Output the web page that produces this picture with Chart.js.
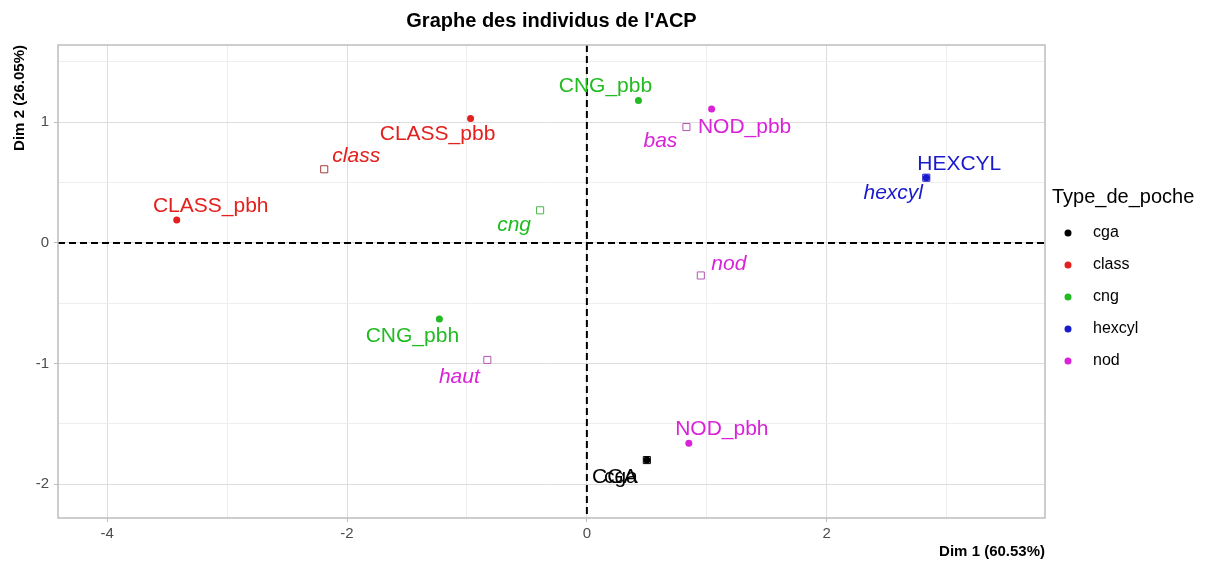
<!DOCTYPE html>
<html>
<head>
<meta charset="utf-8">
<title>Graphe des individus de l'ACP</title>
<script src="https://cdn.jsdelivr.net/npm/chart.js@4.4.0/dist/chart.umd.min.js"></script>
<style>
html, body {margin: 0; padding: 0; background: #fff;}
</style>
</head>
<body>
<canvas id="acp" width="1208" height="566"></canvas>
<script>
// groups (Type_de_poche)
const types = ['cga', 'class', 'cng', 'hexcyl', 'nod']
const typeColors = ['#000000', '#E3201E', '#22BB22', '#1A1ACD', '#D823D8']
const squareColors = ['#000000', '#A83A3A', '#48B848', '#1A1ACD', '#B455B4']

// individuals
const individus = ['CLASS_pbh', 'CLASS_pbb', 'CNG_pbb', 'CNG_pbh', 'NOD_pbb', 'NOD_pbh', 'HEXCYL', 'CGA']
const indGroup = ['class', 'class', 'cng', 'cng', 'nod', 'nod', 'hexcyl', 'cga']
const indDim1 = [-3.42, -0.97, 0.43, -1.23, 1.04, 0.85, 2.83, 0.50]
const indDim2 = [0.19, 1.03, 1.18, -0.63, 1.11, -1.66, 0.54, -1.80]

// supplementary categories
const supLabels = ['class', 'cng', 'bas', 'haut', 'nod', 'hexcyl', 'cga']
const supGroup = ['class', 'cng', 'nod', 'nod', 'nod', 'hexcyl', 'cga']
const supDim1 = [-2.19, -0.39, 0.83, -0.83, 0.95, 2.83, 0.50]
const supDim2 = [0.61, 0.27, 0.96, -0.97, -0.27, 0.54, -1.80]

// axes
const xMajor = [-4, -2, 0, 2]
const xMinor = [-3, -1, 1, 3]
const yMajor = [-2, -1, 0, 1]
const yMinor = [-1.5, -0.5, 0.5, 1.5]

// label offsets in pixels from their point
const indOffsets = [[34, -14], [-33, 16], [-33, -14], [-27, 17], [33, 18], [33, -14], [33, -14], [-32, 17]]
const supOffsets = [[32, -13], [-26, 15], [-26, 14], [-28, 17], [28, -11], [-33, 15], [-26, 17]]

const FONT = '"Liberation Sans", Arial, sans-serif'
const MAJOR = '#DEDEDE'
const MINOR = '#EEEEEE'

function colorOf(group) {
	return typeColors[types.indexOf(group)]
}

const datasets = []
types.forEach((type, t) => {
	const pts = []
	supGroup.forEach((g, i) => { if (g == type) pts.push({x: supDim1[i], y: supDim2[i]}) })
	if (pts.length) datasets.push({
		label: type + ' (sup)',
		data: pts,
		pointStyle: 'rect',
		pointRadius: 5,
		pointBorderWidth: 1,
		pointBackgroundColor: 'rgba(0,0,0,0)',
		pointBorderColor: squareColors[t],
	})
})
types.forEach((type, t) => {
	const pts = []
	indGroup.forEach((g, i) => { if (g == type) pts.push({x: indDim1[i], y: indDim2[i]}) })
	datasets.push({
		label: type,
		data: pts,
		pointStyle: 'circle',
		pointRadius: 3.5,
		pointBorderWidth: 0,
		pointBackgroundColor: typeColors[t],
		pointBorderColor: typeColors[t],
	})
})

const panelPlugin = {
	id: 'panel',
	beforeDatasetsDraw(chart) {
		const {ctx, chartArea: a, scales: {x, y}} = chart
		ctx.save()
		ctx.strokeStyle = '#000'
		ctx.lineWidth = 2
		ctx.setLineDash([7, 4])
		const x0 = x.getPixelForValue(0)
		const y0 = y.getPixelForValue(0)
		ctx.beginPath()
		ctx.moveTo(x0, a.top)
		ctx.lineTo(x0, a.bottom)
		ctx.moveTo(a.left, y0)
		ctx.lineTo(a.right, y0)
		ctx.stroke()
		ctx.setLineDash([])
		ctx.strokeStyle = '#BDBDBD'
		ctx.lineWidth = 1.5
		ctx.strokeRect(a.left, a.top, a.right - a.left, a.bottom - a.top)
		ctx.restore()
	},
}

const labelPlugin = {
	id: 'pointLabels',
	afterDatasetsDraw(chart) {
		const {ctx, scales: {x, y}} = chart
		ctx.save()
		ctx.textAlign = 'center'
		ctx.textBaseline = 'middle'
		ctx.font = '21px ' + FONT
		individus.forEach((name, i) => {
			ctx.fillStyle = colorOf(indGroup[i])
			ctx.fillText(name, x.getPixelForValue(indDim1[i]) + indOffsets[i][0], y.getPixelForValue(indDim2[i]) + indOffsets[i][1])
		})
		supLabels.forEach((name, i) => {
			ctx.font = (name == 'cga' ? '' : 'italic ') + '21px ' + FONT
			ctx.fillStyle = colorOf(supGroup[i])
			ctx.fillText(name, x.getPixelForValue(supDim1[i]) + supOffsets[i][0], y.getPixelForValue(supDim2[i]) + supOffsets[i][1])
		})
		ctx.restore()
	},
}

const legendPlugin = {
	id: 'typeLegend',
	afterDraw(chart) {
		const {ctx, chartArea: a} = chart
		const left = a.right + 7
		ctx.save()
		ctx.textBaseline = 'middle'
		ctx.textAlign = 'left'
		ctx.fillStyle = '#000'
		ctx.font = '20px ' + FONT
		ctx.fillText('Type_de_poche', left, 197)
		ctx.font = '16px ' + FONT
		types.forEach((type, t) => {
			const cy = 233 + t * 32
			ctx.fillStyle = typeColors[t]
			ctx.beginPath()
			ctx.arc(left + 16, cy, 3.5, 0, Math.PI * 2)
			ctx.fill()
			ctx.fillStyle = '#000'
			ctx.fillText(type, left + 41, cy)
		})
		ctx.restore()
	},
}

const ctx = document.getElementById('acp')
new Chart(ctx, {
	type: 'scatter',
	data: {datasets},
	options: {
		responsive: false,
		animation: false,
		devicePixelRatio: 1,
		layout: {padding: {top: 0, right: 163, bottom: 0, left: 0}},
		plugins: {
			legend: {display: false},
			tooltip: {enabled: false},
			title: {
				display: true,
				text: "Graphe des individus de l'ACP",
				fullSize: false,
				color: '#000',
				font: {family: FONT, size: 20, weight: 'bold'},
				padding: {top: 9, bottom: 12},
			},
		},
		scales: {
			x: {
				type: 'linear',
				min: -4.41,
				max: 3.82,
				afterBuildTicks: s => { s.ticks = xMinor.concat(xMajor).sort((p, q) => p - q).map(v => ({value: v})) },
				afterFit: s => { s.height = 48 },
				border: {display: false},
				grid: {
					color: c => xMajor.includes(c.tick.value) ? MAJOR : MINOR,
					tickColor: c => xMajor.includes(c.tick.value) ? '#BDBDBD' : 'rgba(0,0,0,0)',
					tickLength: 4,
					lineWidth: 1,
				},
				ticks: {
					callback: v => xMajor.includes(v) ? String(v) : '',
					color: '#4D4D4D',
					font: {family: FONT, size: 15},
					padding: 3,
					maxRotation: 0,
					autoSkip: false,
				},
				title: {
					display: true,
					text: 'Dim 1 (60.53%)',
					align: 'end',
					color: '#000',
					font: {family: FONT, size: 15, weight: 'bold'},
					padding: {top: 0, bottom: 5},
				},
			},
			y: {
				type: 'linear',
				min: -2.28,
				max: 1.64,
				afterBuildTicks: s => { s.ticks = yMinor.concat(yMajor).sort((p, q) => p - q).map(v => ({value: v})) },
				afterFit: s => { s.width = 58 },
				border: {display: false},
				grid: {
					color: c => yMajor.includes(c.tick.value) ? MAJOR : MINOR,
					tickColor: c => yMajor.includes(c.tick.value) ? '#BDBDBD' : 'rgba(0,0,0,0)',
					tickLength: 4,
					lineWidth: 1,
				},
				ticks: {
					callback: v => yMajor.includes(v) ? String(v) : '',
					color: '#4D4D4D',
					font: {family: FONT, size: 15},
					padding: 5,
					autoSkip: false,
				},
				title: {
					display: true,
					text: 'Dim 2 (26.05%)',
					align: 'end',
					color: '#000',
					font: {family: FONT, size: 15, weight: 'bold'},
					padding: {top: 11, bottom: 0},
				},
			},
		},
	},
	plugins: [panelPlugin, labelPlugin, legendPlugin],
})
</script>
</body>
</html>
